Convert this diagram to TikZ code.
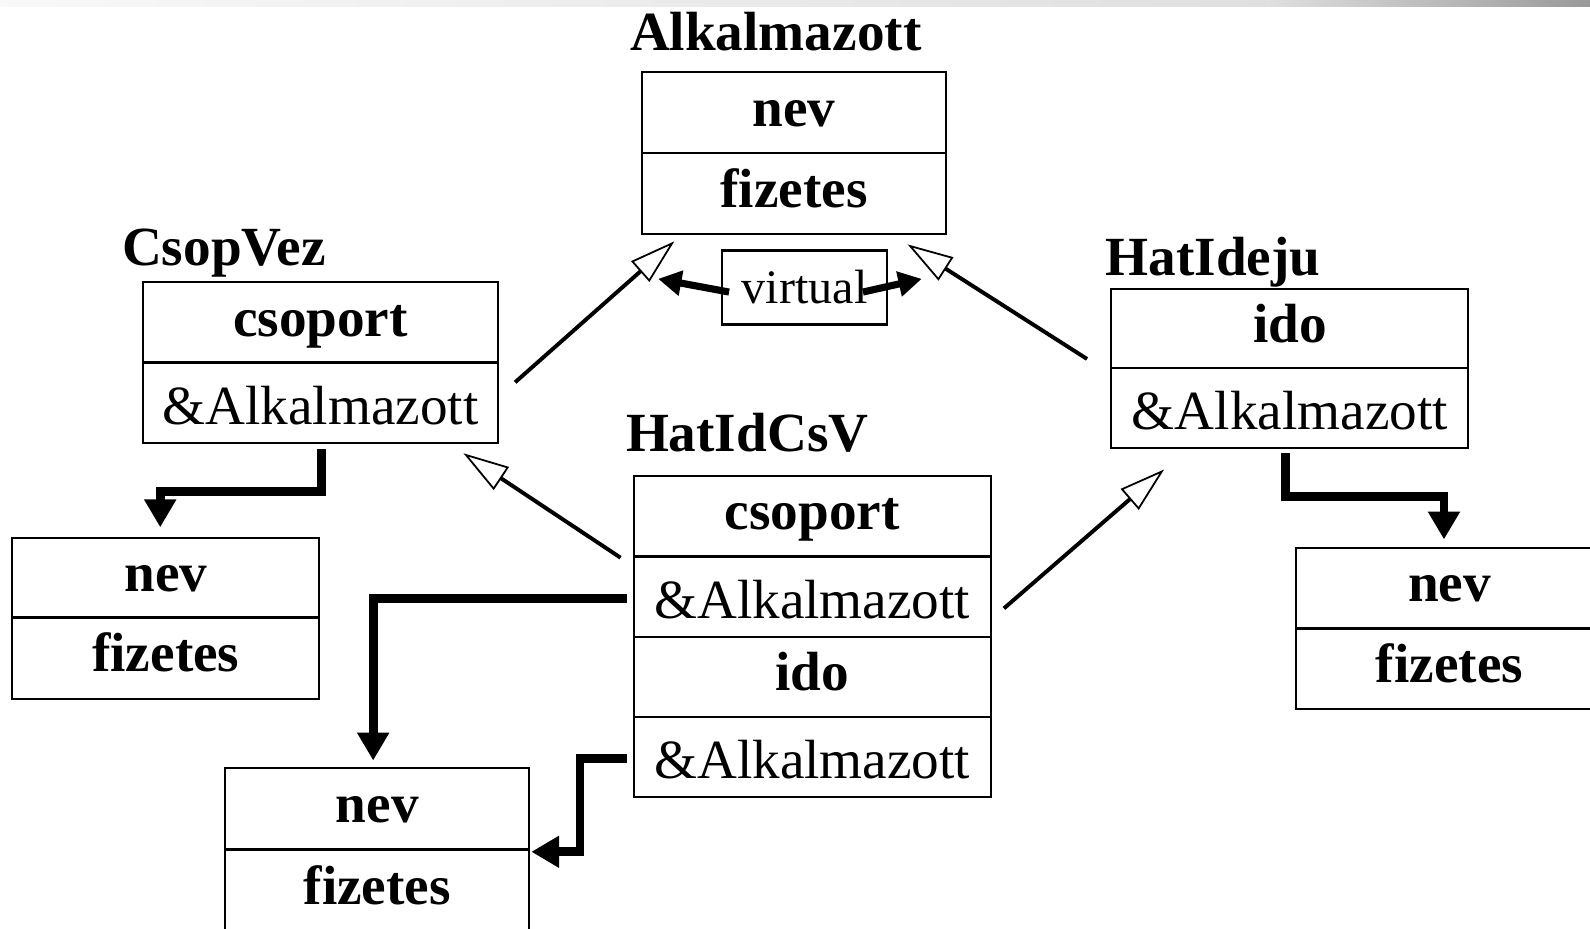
\documentclass[tikz,border=0pt]{standalone}
\usepackage{fontspec}
\setmainfont{Liberation Serif}
\usetikzlibrary{arrows.meta}

\begin{document}
\begin{tikzpicture}[x=0.02cm, y=-0.02cm,
				field/.style={draw=black, line width=1.2pt, inner sep=0pt, outer sep=0pt, text height=0.9cm, text depth=0.04cm, font=\fontsize{31}{37}\selectfont},
				bfield/.style={field, text height=0.6cm, text depth=0.06cm, font=\fontsize{31}{37}\selectfont\bfseries},
				classname/.style={anchor=base west, inner sep=0pt, font=\fontsize{31}{37}\selectfont\bfseries},
				isa/.style={line width=2.2pt, -{Triangle[open, length=0.9cm, width=0.54cm, line width=1pt]}},
				ptr/.style={line width=5pt, -{Triangle[length=0.55cm, width=0.6cm]}},
				vptr/.style={line width=4pt, -{Triangle[length=0.46cm, width=0.48cm]}},
				]
				\useasboundingbox (0,0) rectangle (1568,916);
				%Top bar
				\shade[left color=gray!5, right color=gray!25] (0,0) rectangle (1250,6);
				\shade[left color=gray!25, right color=gray!80] (1250,0) rectangle (1568,6);

				%Nodes
				\node[classname, anchor=base] (alkName) at (765,50) {Alkalmazott};
				\node[bfield, minimum width=6cm, minimum height=1.6cm]     (alkNev)  at (783,111)   {nev};
				\node[bfield, minimum width=6cm, minimum height=1.6cm]     (alkFiz)  at (783,191)   {fizetes};

				\node[draw, line width=1.2pt, inner sep=0pt, minimum width=3.26cm, minimum height=1.46cm,
					font=\fontsize{27}{32}\selectfont] (virt) at (793.5,283.5) {virtual};

				\node[classname] (csName) at (120,262) {CsopVez};
				\node[bfield, minimum width=7cm, minimum height=1.58cm]    (csCsop)  at (316,318)   {csoport};
				\node[field, minimum width=7cm, minimum height=1.58cm]     (csAlk)   at (316,397)   {\&Alkalmazott};

				\node[classname] (hiName) at (1090,272) {HatIdeju};
				\node[bfield, minimum width=7.04cm, minimum height=1.57cm] (hiIdo)   at (1272,324)  {ido};
				\node[field, minimum width=7.04cm, minimum height=1.57cm]  (hiAlk)   at (1272,402.5) {\&Alkalmazott};

				\node[classname] (hcName) at (617,445) {HatIdCsV};
				\node[bfield, minimum width=7.04cm, minimum height=1.58cm] (hcCsop)  at (801,508.5) {csoport};
				\node[field, minimum width=7.04cm, minimum height=1.58cm]  (hcAlk1)  at (801,588.5) {\&Alkalmazott};
				\node[bfield, minimum width=7.04cm, minimum height=1.58cm] (hcIdo)   at (801,667.5) {ido};
				\node[field, minimum width=7.04cm, minimum height=1.58cm]  (hcAlk2)  at (801,746.5) {\&Alkalmazott};

				\node[bfield, minimum width=6.06cm, minimum height=1.57cm] (lnNev)   at (163.5,570) {nev};
				\node[bfield, minimum width=6.06cm, minimum height=1.6cm]  (lnFiz)   at (163.5,649) {fizetes};

				\node[bfield, minimum width=6.06cm, minimum height=1.59cm] (rnNev)   at (1429.5,580) {nev};
				\node[bfield, minimum width=6.06cm, minimum height=1.59cm] (rnFiz)   at (1429.5,659.5) {fizetes};

				\node[bfield, minimum width=6cm, minimum height=1.61cm]    (bnNev)   at (372,797.5) {nev};
				\node[bfield, minimum width=6cm, minimum height=1.61cm]    (bnFiz)   at (372,878)   {fizetes};

				%Connector ends
				\coordinate (virtL)    at (719,288);
				\coordinate (virtLtip) at (649,275);
				\coordinate (virtR)    at (851,288);
				\coordinate (virtRtip) at (909,275);
				\coordinate (csUp)     at (508,377);
				\coordinate (alkTipL)  at (665,238);
				\coordinate (hiUp)     at (1072,354);
				\coordinate (alkTipR)  at (895,241);
				\coordinate (hcLeft)   at (612,550);
				\coordinate (csTip)    at (457,447);
				\coordinate (hcRight)  at (990,600);
				\coordinate (hiTip)    at (1148,463);
				\coordinate (csDown)   at (317,443);
				\coordinate (lnTip)    at (158,520);
				\coordinate (hiDown)   at (1268,447);
				\coordinate (rnTip)    at (1424,532);
				\coordinate (hcOut1)   at (618,590);
				\coordinate (bnTop)    at (368,750);
				\coordinate (hcOut2)   at (618,748);
				\coordinate (bnSide)   at (524,840);

				%Lines
				\draw[vptr] (virtL) -- (virtLtip);
				\draw[vptr] (virtR) -- (virtRtip);

				\draw[isa] (csUp) -- (alkTipL);
				\draw[isa] (hiUp) -- (alkTipR);
				\draw[isa] (hcLeft) -- (csTip);
				\draw[isa] (hcRight) -- (hiTip);

				\draw[ptr] (csDown) -- ++(0,42) -| (lnTip);
				\draw[ptr] (hiDown) -- ++(0,43) -| (rnTip);
				\draw[ptr] (hcOut1) -| (bnTop);
				\draw[ptr] (hcOut2) -- ++(-46,0) |- (bnSide);
			\end{tikzpicture}
\end{document}
